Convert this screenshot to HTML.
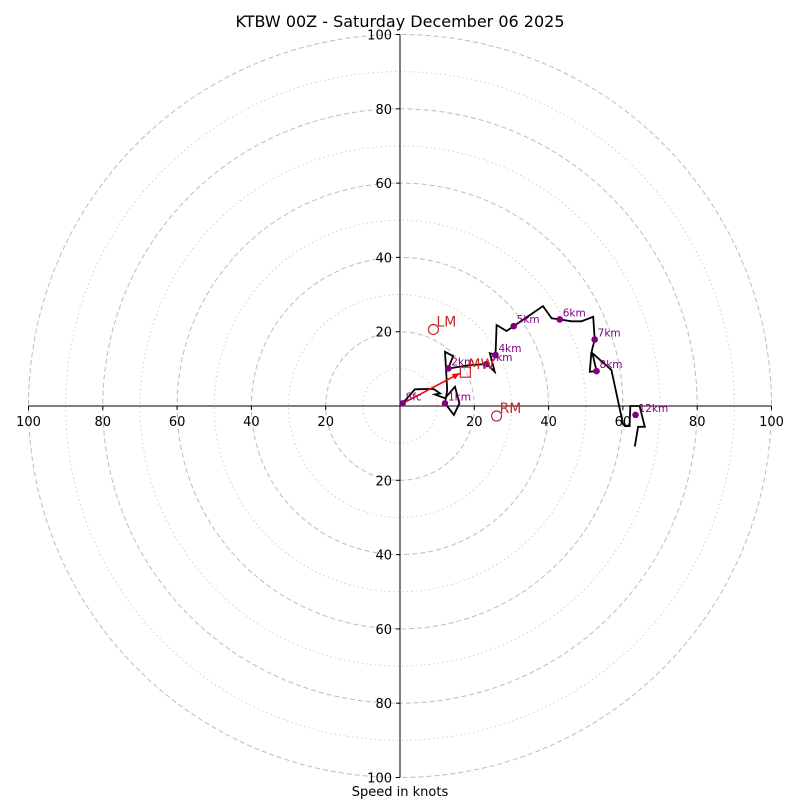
<!DOCTYPE html>
<html><head><meta charset="utf-8"><style>
html,body{margin:0;padding:0;background:#fff}
svg{display:block;font-family:"DejaVu Sans","Liberation Sans",sans-serif}
</style></head><body>
<svg id="chart" width="800" height="800" viewBox="0 0 800 800">
<rect width="800" height="800" fill="#fff"/>
<text x="400" y="27" text-anchor="middle" font-size="16">KTBW 00Z - Saturday December 06 2025</text>
<g id="grid"></g>
<g id="axes"></g>
<g id="plot"></g>
<text x="400" y="796" text-anchor="middle" font-size="13">Speed in knots</text>
</svg>
<script>
const ringsMajor=[20,40,60,80,100];
const ringsMinor=[10,30,50,70,90];
const tickValues=[20,40,60,80,100];
const hodoU=[0.7,4.0,9.0,10.8,9.4,12.1,14.8,16.0,14.5,12.1,12.7,12.1,14.3,13.0,18.8,23.3,25.5,24.2,25.7,26,28.7,30.6,38.5,40.8,43,46.1,48.8,52,52.4,51.5,51.1,52.9,51.8,56.9,60,60.5,61.8,62,64.5,65.9,64.1,63.2];
const hodoV=[0.7,4.5,4.6,3.4,3.1,2.1,5.2,0.7,-2.4,0.7,4.3,14.6,13.4,10.1,11.0,11.3,9.2,14.2,13.7,21.8,20.2,21.5,26.9,23.6,23.3,22.8,22.8,24,17.9,14.3,9.2,9.4,14.2,9.7,-4.7,-5.4,-5.4,0,0,-5.6,-5.6,-10.9];
const markLabels=["Sfc","1km","2km","3km","4km","5km","6km","7km","8km","12km"];
const markU=[0.7,12.1,13.0,23.3,25.7,30.6,43,52.4,52.9,63.4];
const markV=[0.7,0.7,10.1,11.3,13.7,21.5,23.3,17.9,9.4,-2.4];
const motionLabels=["LM","RM","MW"];
const motionU=[9.0,26,17.6];
const motionV=[20.6,-2.7,9.1];
const arrowEnd=[16.1,8.8];

const NS="http://www.w3.org/2000/svg";
const cx=400,cy=406,k=3.715;
const X=u=>cx+u*k, Y=v=>cy-v*k;
function mk(tag,attrs,parent,txt){const e=document.createElementNS(NS,tag);for(const a in attrs)e.setAttribute(a,attrs[a]);if(txt!==undefined)e.textContent=txt;parent.appendChild(e);return e;}
const grid=document.getElementById('grid'),axes=document.getElementById('axes'),plot=document.getElementById('plot');
ringsMinor.forEach(r=>{const c=mk('circle',{cx:cx,cy:cy,r:r*k,fill:'none',stroke:'#cfcfcf','stroke-width':1,'stroke-dasharray':'1.5,3'},grid);

});
ringsMajor.forEach(r=>{const c=mk('circle',{cx:cx,cy:cy,r:r*k,fill:'none',stroke:'#bdbdbd','stroke-width':1,'stroke-dasharray':'5,3'},grid);

});
mk('line',{x1:X(-100),x2:X(100),y1:cy,y2:cy,stroke:'#000','stroke-width':1},axes);
mk('line',{x1:cx,x2:cx,y1:Y(100),y2:Y(-100),stroke:'#000','stroke-width':1},axes);
tickValues.forEach(t=>{[t,-t].forEach(s=>{
 mk('line',{x1:X(s),x2:X(s),y1:cy,y2:cy+4,stroke:'#000'},axes);
 const tx=mk('text',{x:X(s),y:cy+20,'text-anchor':'middle','font-size':13},axes,String(t));
 
 
 mk('line',{x1:cx-4,x2:cx,y1:Y(s),y2:Y(s),stroke:'#000'},axes);
 const ty=mk('text',{x:cx-8,y:Y(s)+5,'text-anchor':'end','font-size':13},axes,String(t));
 
 
});});
const pts=hodoU.map((u,i)=>X(u).toFixed(1)+','+Y(hodoV[i]).toFixed(1)).join(' ');
const pl=mk('polyline',{points:pts,fill:'none',stroke:'#000','stroke-width':1.8,'stroke-linejoin':'miter'},plot);


const ax=X(arrowEnd[0]),ay=Y(arrowEnd[1]),sx=X(markU[0]),sy=Y(markV[0]);
const ar=mk('line',{x1:sx,y1:sy,x2:ax,y2:ay,stroke:'#ff0000','stroke-width':1.6},plot);


const ang=Math.atan2(ay-sy,ax-sx);
const hp=[[ax,ay],[ax-8*Math.cos(ang-0.4),ay-8*Math.sin(ang-0.4)],[ax-8*Math.cos(ang+0.4),ay-8*Math.sin(ang+0.4)]].map(p=>p.join(',')).join(' ');
mk('polygon',{points:hp,fill:'#ff0000'},plot);
markLabels.forEach((l,i)=>{
 const d=mk('circle',{cx:X(markU[i]),cy:Y(markV[i]),r:3.3,fill:'#800080'},plot);
 
 
 const t=mk('text',{x:X(markU[i])+3,y:Y(markV[i])-3,'font-size':10.5,fill:'#800080'},plot,l);
 
 
});
motionLabels.forEach((l,i)=>{
 const x=X(motionU[i]),y=Y(motionV[i]);
 let s;
 if(l==='MW') s=mk('rect',{x:x-5,y:y-5,width:10,height:10,fill:'none',stroke:'#c82828','stroke-width':1.2},plot);
 else s=mk('circle',{cx:x,cy:y,r:5,fill:'none',stroke:'#c82828','stroke-width':1.2},plot);
 
 
 const t=mk('text',{x:x+3,y:y-3,'font-size':14,fill:'#c82828'},plot,l);
 
 
});
</script>
</body></html>
